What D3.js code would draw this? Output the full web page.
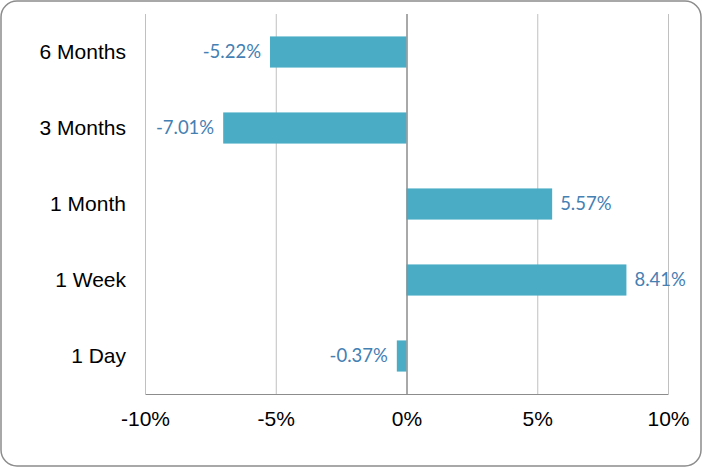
<!DOCTYPE html>
<html>
<head>
<meta charset="utf-8">
<script src="https://cdn.jsdelivr.net/npm/d3@7"></script>
<style>
  body { margin: 0; background: #fff; }
</style>
</head>
<body>
<div id="chart"></div>
<script>
// data
var categories = ["6 Months", "3 Months", "1 Month", "1 Week", "1 Day"];
var returns = [-5.22, -7.01, 5.57, 8.41, -0.37];
var tickValues = [-10, -5, 0, 5, 10];

var svgWidth = 702;
var svgHeight = 467;

var margin = { top: 14, right: 34, bottom: 73, left: 145 };
var width = 668 - margin.left;
var height = 394 - margin.top;

var svg = d3.select("#chart")
    .append("svg")
    .attr("width", svgWidth)
    .attr("height", svgHeight);

// rounded outer frame
svg.append("rect")
    .attr("x", 1)
    .attr("y", 1)
    .attr("width", svgWidth - 2)
    .attr("height", svgHeight - 2)
    .attr("rx", 16)
    .attr("fill", "#fff")
    .attr("stroke", "#8c8c8c")
    .attr("stroke-width", 1.5);

var chartGroup = svg.append("g")
    .attr("transform", `translate(${margin.left}, ${margin.top})`);

var data = categories.map((c, i) => ({ cat: c, val: returns[i] }));

var xScale = d3.scaleLinear()
    .domain([-10, 10])
    .range([0, width]);

var yScale = d3.scaleBand()
    .domain(categories)
    .range([0, height])
    .paddingInner(0.59)
    .paddingOuter(0.295);

// gridlines
chartGroup.selectAll(".grid")
    .data(tickValues)
    .enter()
    .append("line")
    .attr("x1", d => xScale(d) + 0.5)
    .attr("x2", d => xScale(d) + 0.5)
    .attr("y1", 0)
    .attr("y2", height)
    .attr("stroke", d => d === 0 ? "#8c8c8c" : "#c0c0c0")
    .attr("stroke-width", 1);

// bars
chartGroup.selectAll(".bar")
    .data(data)
    .enter()
    .append("rect")
    .attr("x", d => xScale(Math.min(0, d.val)))
    .attr("y", d => yScale(d.cat))
    .attr("width", d => Math.abs(xScale(d.val) - xScale(0)))
    .attr("height", yScale.bandwidth())
    .attr("fill", "#4bacc6");

// zero line on top of bars
chartGroup.append("line")
    .attr("x1", xScale(0) + 0.5)
    .attr("x2", xScale(0) + 0.5)
    .attr("y1", 0)
    .attr("y2", height)
    .attr("stroke", "#8c8c8c");

// bottom axis
var bottomAxis = d3.axisBottom(xScale)
    .tickValues(tickValues)
    .tickSize(0)
    .tickPadding(17)
    .tickFormat(d => d + "%");

var xAxis = chartGroup.append("g")
    .attr("transform", `translate(0, ${height})`)
    .call(bottomAxis);

xAxis.select(".domain").attr("stroke", "#8c8c8c").attr("stroke-width", 1.2);
xAxis.selectAll("text")
    .attr("font-family", "Liberation Sans, Arial, sans-serif")
    .attr("font-size", "21px")
    .attr("fill", "#000");

// category labels
chartGroup.selectAll(".cat")
    .data(data)
    .enter()
    .append("text")
    .attr("x", 126 - margin.left)
    .attr("y", d => yScale(d.cat) + yScale.bandwidth() / 2)
    .attr("dy", "0.35em")
    .attr("text-anchor", "end")
    .attr("font-family", "Liberation Sans, Arial, sans-serif")
    .attr("font-size", "21px")
    .attr("fill", "#000")
    .text(d => d.cat);

// value labels
chartGroup.selectAll(".val")
    .data(data)
    .enter()
    .append("text")
    .attr("x", d => d.val < 0 ? xScale(d.val) - 9 : xScale(d.val) + 8)
    .attr("y", d => yScale(d.cat) + yScale.bandwidth() / 2)
    .attr("dy", "0.35em")
    .attr("text-anchor", d => d.val < 0 ? "end" : "start")
    .attr("font-family", "Lato, 'Open Sans', sans-serif")
    .attr("font-size", "18.5px")
    .attr("fill", "#4580b3")
    .text(d => d.val.toFixed(2) + "%");
</script>
</body>
</html>
